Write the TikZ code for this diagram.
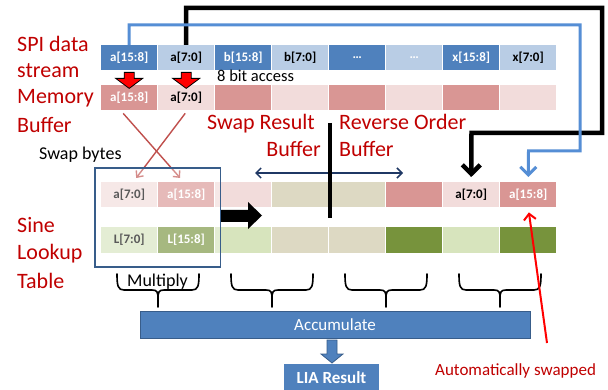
\documentclass[tikz,border=0pt]{standalone}
\usepackage{fontspec}
\setmainfont{Carlito}
\usetikzlibrary{arrows.meta,fit}

\definecolor{spidark}{HTML}{4F81BD}
\definecolor{spilight}{HTML}{B9CDE5}
\definecolor{pinkdark}{HTML}{D99694}
\definecolor{pinklight}{HTML}{F2DCDB}
\definecolor{tanfill}{HTML}{DDD9C3}
\definecolor{greenlight}{HTML}{D7E4BD}
\definecolor{greendark}{HTML}{77933C}
\definecolor{labelred}{HTML}{C00000}
\definecolor{boxblue}{HTML}{385D8A}
\definecolor{linkblue}{HTML}{558ED5}
\definecolor{navy}{HTML}{1F3864}
\definecolor{swapred}{HTML}{C0504D}

\newcommand\celldots{\char"2026}

\tikzset{
  cell/.style={anchor=north west, minimum width=56pt, minimum height=25pt,
    inner sep=0pt, font=\fontsize{13}{15}\selectfont\bfseries},
  redlabel/.style={inner sep=0pt, text=labelred, font=\fontsize{22}{26}\selectfont},
  blacklink/.style={line width=4.5pt, black,
    -{Straight Barb[length=9pt,width=18pt]}, shorten >=5pt},
  bluelink/.style={line width=3pt, linkblue,
    -{Straight Barb[length=8pt,width=16pt]}, shorten >=5pt},
  swapline/.style={line width=1.4pt, swapred, -{Straight Barb[length=5pt,width=9pt]}},
  dropbox/.pic={\draw[fill=red, line width=0.8pt, line join=miter]
    (-5,0) -- (5,0) -- (5,6) -- (13.5,6) -- (0,16) -- (-13.5,6) -- (-5,6) -- cycle;},
  pairbrace/.pic={\draw[line width=1.6pt, line cap=round]
    (-41,0) .. controls (-41,12) and (-40,16) .. (-34,16) -- (-6,16)
      .. controls (-1,16) and (0,18) .. (0,24) -- (0,33)
    (41,0) .. controls (41,12) and (40,16) .. (34,16) -- (6,16)
      .. controls (1,16) and (0,18) .. (0,24);}
}

\begin{document}
\begin{tikzpicture}[x=1pt,y=-1pt]
\useasboundingbox[fill=white] (0,0) rectangle (608,390);

% SPI data stream row
\foreach \i/\f/\t/\tc in {1/spidark/a[15:8]/white, 2/spilight/a[7:0]/black,
  3/spidark/b[15:8]/white, 4/spilight/b[7:0]/black, 5/spidark/\celldots/white,
  6/spilight/\celldots/white, 7/spidark/x[15:8]/white, 8/spilight/x[7:0]/black}
  \node[cell, fill=\f, text=\tc] (s\i) at ({101+57*(\i-1)},45) {\t};

% memory buffer row
\foreach \i/\f/\t/\tc in {1/pinkdark/a[15:8]/white, 2/pinklight/a[7:0]/black,
  3/pinkdark/{}/white, 4/pinklight/{}/black, 5/pinkdark/{}/white,
  6/pinklight/{}/white, 7/pinkdark/{}/white, 8/pinklight/{}/black}
  \node[cell, fill=\f, text=\tc] (m\i) at ({101+57*(\i-1)},85) {\t};

% swap result / reverse order buffer row
\foreach \i/\f/\t/\tc in {1/pinklight/a[7:0]/black, 2/pinkdark/a[15:8]/white,
  3/pinklight/{}/black, 4/tanfill/{}/black, 5/tanfill/{}/black,
  6/pinkdark/{}/white, 7/pinklight/a[7:0]/black, 8/pinkdark/a[15:8]/white}
  \node[cell, fill=\f, text=\tc] (w\i) at ({101+57*(\i-1)},182) {\t};

% sine lookup table row
\foreach \i/\f/\t/\tc in {1/greenlight/L[7:0]/black, 2/greendark/L[15:8]/white,
  3/greenlight/{}/black, 4/tanfill/{}/black, 5/tanfill/{}/black,
  6/greendark/{}/white, 7/greenlight/{}/black, 8/greendark/{}/white}
  \node[cell, fill=\f, text=\tc, minimum height=26pt] (l\i) at ({101+57*(\i-1)},227) {\t};

% left-hand labels
\node[redlabel, anchor=base west] (lspi) at (17,52) {SPI data};
\node[redlabel, anchor=base west] (lstream) at (17,78) {stream};
\node[redlabel, anchor=base west] (lmem) at (17,104) {Memory};
\node[redlabel, anchor=base west] (lbuf) at (17,133) {Buffer};
\node[redlabel, anchor=base west] (lsine) at (17,233) {Sine};
\node[redlabel, anchor=base west] (llook) at (17,260) {Lookup};
\node[redlabel, anchor=base west] (ltab) at (17,288) {Table};

\node[anchor=base west, inner sep=0pt, font=\fontsize{18}{20}\selectfont] (swapb) at (39,160) {Swap bytes};
\node[anchor=base west, inner sep=0pt, font=\fontsize{16.5}{18}\selectfont] (bitacc) at (217,82) {8 bit access};

\node[redlabel, anchor=base east] (lswap) at (315,130) {Swap Result};
\node[redlabel, anchor=base east] (lswapb) at (321,157) {Buffer};
\node[redlabel, anchor=base west] (lrev) at (339,130) {Reverse Order};
\node[redlabel, anchor=base west] (lrevb) at (339,157) {Buffer};

% byte copy arrows from stream into memory
\path (s1.south) ++(0,2) pic {dropbox};
\path (s2.south) ++(0,2) pic {dropbox};

% byte swap
\draw[swapline] ([xshift=-6pt,yshift=-3pt]m1.south) -- ([xshift=-6pt,yshift=4pt]w2.north);
\draw[swapline] ([xshift=-1pt,yshift=-3pt]m2.south) -- ([xshift=7pt,yshift=4pt]w1.north);

% multiply window
\node[fit=(w1)(l2), inner xsep=6pt, inner ysep=14pt, draw=boxblue, line width=1.8pt,
  fill=white, fill opacity=0.35] (lens) {};
\fill (221,210) -- (248,210) -- (248,202) -- (262,215.5) -- (248,229) -- (248,222) -- (221,222) -- cycle;

% buffer split
\draw[navy, line width=1.5pt, {Straight Barb[length=5pt,width=10pt]}-{Straight Barb[length=5pt,width=10pt]}]
  (255,173) -- (403,173);
\draw[line width=4.5pt] (330,123) -- (330,218);

% wrap-around links
\coordinate (bk1) at (602,8);
\coordinate (bk2) at (471.5,133);
\draw[blacklink] (s2.north) |- (bk1) -- (bk1 |- bk2) -- (bk2) -- (w7.north);
\coordinate (bl1) at (580,25);
\coordinate (bl2) at (528.5,151);
\draw[bluelink] (s1.north) |- (bl1) -- (bl1 |- bl2) -- (bl2) -- (w8.north);

% products
\foreach \xm in {158,272,386,500}
  \pic at (\xm,274) {pairbrace};
\node[anchor=base, inner sep=0pt, font=\fontsize{18}{20}\selectfont] (mult) at (157.5,287) {Multiply};

\node[fill=spidark, draw=boxblue, line width=1pt, minimum width=390pt, minimum height=27pt,
  inner sep=0pt, text=white, font=\fontsize{17}{19}\selectfont] (acc) at (335,324.5) {Accumulate};
\node[fill=spidark, anchor=north, minimum width=95pt, minimum height=27pt, inner sep=0pt,
  text=white, font=\fontsize{17}{19}\selectfont\bfseries] (lia) at (331.5,364) {LIA Result};
\draw[fill=spidark, draw=boxblue, line width=0.8pt, line join=miter]
  (327,340) -- (337,340) -- (337,354) -- (343,354) -- (332,363) -- (321,354) -- (327,354) -- cycle;

% automatic swap note
\coordinate (autotail) at (547,343);
\draw[red, line width=2pt, -{Straight Barb[length=6pt,width=12pt]}, shorten >=5pt] (autotail) -- (w8.south);
\node[anchor=base west, inner sep=0pt, text=labelred, font=\fontsize{17}{19}\selectfont] (autonote) at (435,375) {Automatically swapped};
\end{tikzpicture}
\end{document}
